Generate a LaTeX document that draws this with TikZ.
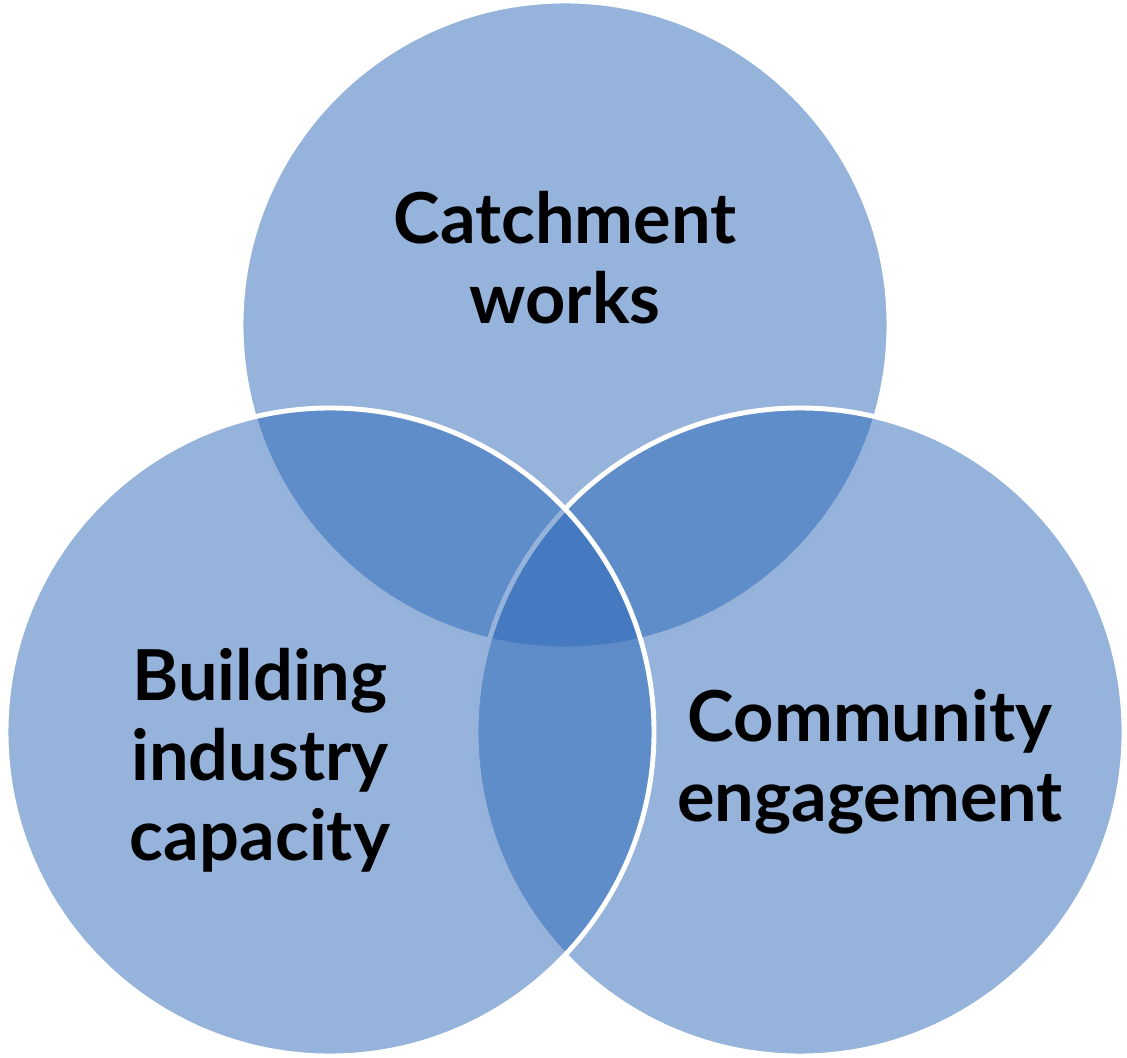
\documentclass[tikz,border=0pt]{standalone}
\usepackage{fontspec}
\usepackage{xcolor}
\newfontfamily\vennfont{Lato}
\usetikzlibrary{positioning}
\definecolor{vennblue}{RGB}{43,103,183}

\begin{document}
\begin{tikzpicture}[
  venn/.style = {circle,fill = vennblue,fill opacity = 0.5,draw = white,
    line width = 1.4pt,minimum size = 6.48cm,inner sep = 0pt},
  vennlabel/.style = {align = center,text = black,
    font = \vennfont\bfseries\fontsize{20}{22.8}\selectfont}]
\useasboundingbox (0,0) rectangle (11.27,10.57);
% circles, top first, then right, left on top
\node[venn] (Catch) at (5.65,7.32) {};
\node[venn] (Comm) at (8.00,3.25) {};
\node[venn] (Build) at (3.30,3.25) {};
% labels
\node[vennlabel] (CatchText) at (5.65,7.99) {Catchment\\works};
\node[vennlabel] (BuildText) at (2.60,2.97) {Building\\industry\\capacity};
\node[vennlabel] (CommText) at (8.70,2.95) {Community\\engagement};
\end{tikzpicture}
\end{document}
